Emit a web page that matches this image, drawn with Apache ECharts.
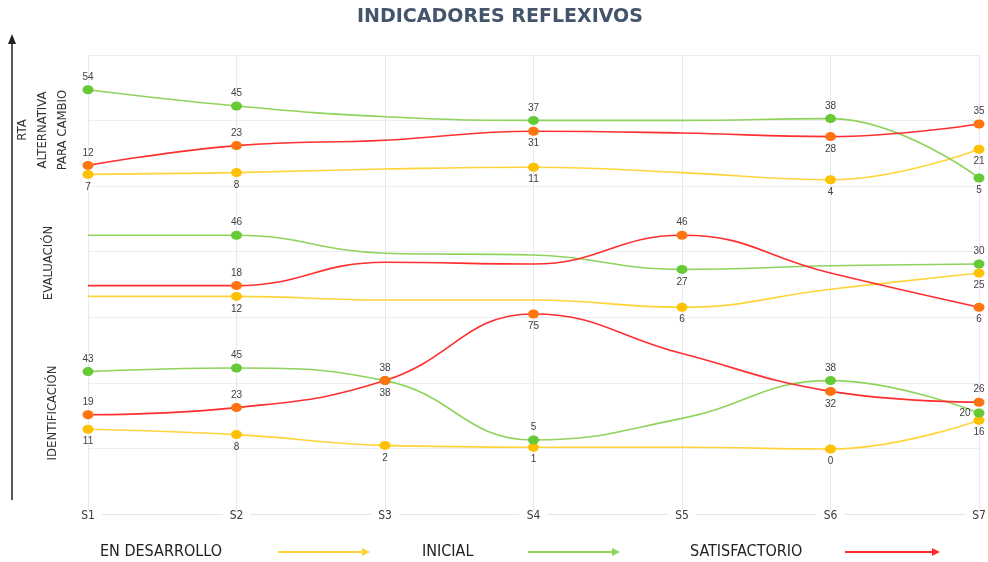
<!DOCTYPE html>
<html>
<head>
<meta charset="utf-8">
<title>Indicadores reflexivos</title>
<script src="https://cdn.jsdelivr.net/npm/echarts@6/dist/echarts.min.js"></script>
<style>
  html, body { margin: 0; padding: 0; background: #fff; }
  #chart { width: 988px; height: 562px; }
</style>
</head>
<body>
<div id="chart"></div>
<script>
// Sessions on the horizontal axis
const categories = ['S1', 'S2', 'S3', 'S4', 'S5', 'S6', 'S7'];

// RTA ALTERNATIVA PARA CAMBIO
const rtaDesarrollo    = [7, 8, 10, 11, 8, 4, 21];
const rtaInicial       = [54, 45, 39, 37, 37, 38, 5];
const rtaSatisfactorio = [12, 23, 26, 31, 30, 28, 35];

// EVALUACIÓN
const evaDesarrollo    = [12, 12, 10, 10, 6, 16, 25];
const evaInicial       = [46, 46, 36, 35, 27, 29, 30];
const evaSatisfactorio = [18, 18, 31, 30, 46, 25, 6];

// IDENTIFICACIÓN
const ideDesarrollo    = [11, 8, 2, 1, 1, 0, 16];
const ideInicial       = [43, 45, 38, 5, 17, 38, 20];
const ideSatisfactorio = [19, 23, 38, 75, 53, 32, 26];

// Where each labelled point puts its value (null = plain curve, no dot)
const T = 'top', B = 'bottom', L = 'left', _ = null;
const lblRta = { des: [B, B, _, B, _, B, B], ini: [T, T, _, T, _, T, B], sat: [T, T, _, B, _, B, T] };
const lblEva = { des: [_, B, _, _, B, _, B], ini: [_, T, _, _, B, _, T], sat: [_, T, _, _, T, _, B] };
const lblIde = { des: [B, B, B, B, _, B, B], ini: [T, T, B, T, _, T, L], sat: [T, T, T, B, _, B, T] };

const NARROW = "'Liberation Sans Narrow', 'Arial Narrow', 'DejaVu Sans Condensed', 'Liberation Sans', sans-serif";

const COLORS = {
  des: { line: '#ffd43b', dot: '#ffc000' },
  ini: { line: '#8fd35c', dot: '#66c936' },
  sat: { line: '#ff2f2f', dot: '#ff7410' }
};

const chart = echarts.init(document.getElementById('chart'), null, { renderer: 'canvas' });

const LEFT = 88, RIGHT = 9;
const PANEL_H = 144;           // 0..80 on every band
const panelBottoms = [187, 318, 449];

const grids = [{ left: LEFT, right: RIGHT, top: 55, bottom: 562 - 514, outerBoundsMode: 'none', containLabel: false }];
panelBottoms.forEach(b => grids.push({ left: LEFT, right: RIGHT, bottom: 562 - b, height: PANEL_H, outerBoundsMode: 'none', containLabel: false }));

const xAxes = [{
  gridIndex: 0, type: 'category', data: categories, boundaryGap: false,
  axisLine: { show: true, lineStyle: { color: '#e2e5eb', width: 1 } },
  axisTick: { show: false },
  axisLabel: {
    color: '#3a3a3a', fontSize: 12, fontFamily: NARROW, margin: -4,
    backgroundColor: '#fff', padding: [0, 7]
  },
  splitLine: { show: true, lineStyle: { color: '#e6e9f0', width: 1 } }
}];
const yAxes = [{
  gridIndex: 0, type: 'value', min: 0, max: 7, interval: 1,
  axisLine: { show: false }, axisTick: { show: false }, axisLabel: { show: false },
  splitLine: { show: true, lineStyle: { color: '#eceef3', width: 1 } }
}];
for (let g = 1; g <= 3; g++) {
  xAxes.push({ gridIndex: g, type: 'category', data: categories, boundaryGap: false, show: false });
  yAxes.push({ gridIndex: g, type: 'value', min: 0, max: 80, show: false, splitLine: { show: false } });
}

function lineSeries(name, values, gridIdx, key, positions) {
  return {
    name: name, type: 'line', xAxisIndex: gridIdx, yAxisIndex: gridIdx,
    smooth: 0.45, symbol: 'circle', symbolSize: [11, 9], showAllSymbol: true,
    clip: false, silent: true,
    lineStyle: { color: COLORS[key].line, width: 1.6 },
    itemStyle: { color: COLORS[key].dot },
    label: { show: false, color: '#404040', fontSize: 10, distance: 3, fontFamily: 'Liberation Sans, sans-serif', formatter: '{c}' },
    emphasis: { disabled: true },
    data: values.map((v, i) => positions[i]
      ? { value: v, label: { show: true, position: positions[i] } }
      : { value: v, symbol: 'none' })
  };
}

const series = [
  lineSeries('EN DESARROLLO', rtaDesarrollo, 1, 'des', lblRta.des),
  lineSeries('INICIAL', rtaInicial, 1, 'ini', lblRta.ini),
  lineSeries('SATISFACTORIO', rtaSatisfactorio, 1, 'sat', lblRta.sat),
  lineSeries('EN DESARROLLO', evaDesarrollo, 2, 'des', lblEva.des),
  lineSeries('INICIAL', evaInicial, 2, 'ini', lblEva.ini),
  lineSeries('SATISFACTORIO', evaSatisfactorio, 2, 'sat', lblEva.sat),
  lineSeries('EN DESARROLLO', ideDesarrollo, 3, 'des', lblIde.des),
  lineSeries('INICIAL', ideInicial, 3, 'ini', lblIde.ini),
  lineSeries('SATISFACTORIO', ideSatisfactorio, 3, 'sat', lblIde.sat)
];

// Bottom key: label followed by an arrow in the series colour
function keyItems(text, tx, x1, x2, color) {
  const y = 552;
  return [
    { type: 'text', x: tx, y: y, style: { text: text, font: '16px ' + NARROW, fill: '#222', align: 'left', verticalAlign: 'middle' } },
    { type: 'line', shape: { x1: x1, y1: y, x2: x2 - 6, y2: y }, style: { stroke: color, lineWidth: 2.2 } },
    { type: 'polygon', shape: { points: [[x2, y], [x2 - 8, y - 4], [x2 - 8, y + 4]] }, style: { fill: color } }
  ];
}

const graphic = [
  { type: 'text', x: 500, y: 17, style: { text: 'INDICADORES REFLEXIVOS', font: 'bold 19px "DejaVu Sans", sans-serif', fill: '#44546a', align: 'center', verticalAlign: 'middle' } },
  // vertical arrow on the left
  { type: 'line', shape: { x1: 12, y1: 500, x2: 12, y2: 42 }, style: { stroke: '#222', lineWidth: 1.5 } },
  { type: 'polygon', shape: { points: [[12, 34], [8, 44], [16, 44]] }, style: { fill: '#222' } },
  // band titles
  { type: 'text', x: 43, y: 130, rotation: Math.PI / 2, style: { text: 'RTA\nALTERNATIVA\nPARA CAMBIO', font: '13px ' + NARROW, lineHeight: 20, fill: '#333', align: 'center', verticalAlign: 'middle' } },
  { type: 'text', x: 49, y: 263, rotation: Math.PI / 2, style: { text: 'EVALUACIÓN', font: '13px ' + NARROW, fill: '#333', align: 'center', verticalAlign: 'middle' } },
  { type: 'text', x: 53, y: 413, rotation: Math.PI / 2, style: { text: 'IDENTIFICACIÓN', font: '13px ' + NARROW, fill: '#333', align: 'center', verticalAlign: 'middle' } }
].concat(
  keyItems('EN DESARROLLO', 100, 278, 370, COLORS.des.line),
  keyItems('INICIAL', 422, 528, 620, COLORS.ini.line),
  keyItems('SATISFACTORIO', 690, 845, 940, COLORS.sat.line)
);

chart.setOption({
  animation: false,
  backgroundColor: '#fff',
  grid: grids,
  xAxis: xAxes,
  yAxis: yAxes,
  series: series,
  graphic: graphic
});
</script>
</body>
</html>
